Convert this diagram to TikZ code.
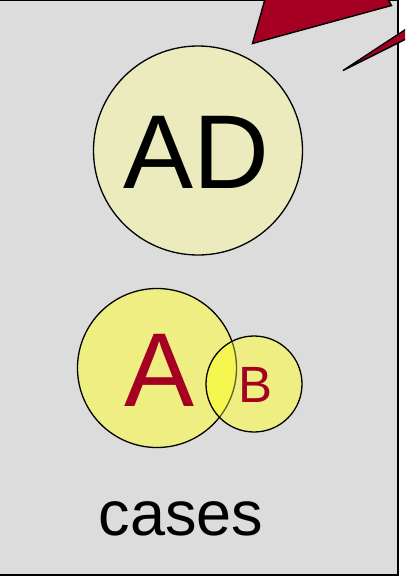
\documentclass[tikz,border=0pt]{standalone}
\usepackage{fontspec}
\setmainfont{Liberation Sans}
\definecolor{panelgray}{RGB}{220,220,220}
\definecolor{paleyellow}{RGB}{235,235,190}
\definecolor{setyellow}{RGB}{238,238,130}
\definecolor{overlapyellow}{RGB}{246,246,80}
\definecolor{olive}{RGB}{95,95,40}
\definecolor{darkred}{RGB}{165,0,33}
\begin{document}
\begin{tikzpicture}[x=1pt,y=-1pt,
  bubble/.style={circle,draw=black,line width=1.3pt,inner sep=0pt},
  bolt/.style={fill=darkred,draw=black,line width=1.4pt,line join=miter}]
\useasboundingbox (0,0) rectangle (405,576);
\begin{scope}
\clip (0,0) rectangle (405,576);
% panel
\draw[fill=panelgray,line width=2.3pt] (-10,0) rectangle (398,575);
% red pointers in the top corner
\draw[bolt] (252.5,43.5) -- (267,-8) -- (384,-8) -- (391.5,5.5) -- cycle;
\draw[bolt] (343,70.5) -- (420,20) -- (420,32) -- cycle;
\end{scope}
% circles
\node[bubble,fill=paleyellow,minimum size=209pt] (ad) at (198,150.5) {};
\node[font=\fontsize{105}{105}\selectfont] (adlabel) at (196,152) {AD};
% the two overlapping sets
\node[circle,inner sep=0pt,fill=setyellow,minimum size=159pt] (a) at (157,368) {};
\node[circle,inner sep=0pt,fill=setyellow,minimum size=96pt] (b) at (254,384) {};
\begin{scope}
\clip (a.center) circle[radius=79.5pt];
\fill[overlapyellow] (b.center) circle[radius=48pt];
\end{scope}
% outline of A: dimmed where B lies over it
\begin{scope}
\clip (b.center) circle[radius=48pt];
\draw[olive,line width=1.3pt] (a.center) circle[radius=79.5pt];
\end{scope}
\begin{scope}[even odd rule]
\clip (b.center) circle[radius=48pt] (0,0) rectangle (405,576);
\draw[line width=1.3pt] (a.center) circle[radius=79.5pt];
\end{scope}
\draw[line width=1.3pt] (b.center) circle[radius=48pt];
\node[font=\fontsize{105}{105}\selectfont,text=darkred] (alabel) at (160,370) {A};
\node[font=\fontsize{51}{51}\selectfont,text=darkred] (blabel) at (256,385) {B};
\node[font=\fontsize{63}{63}\selectfont,anchor=base] (cases) at (181,535) {cases};
\end{tikzpicture}
\end{document}
